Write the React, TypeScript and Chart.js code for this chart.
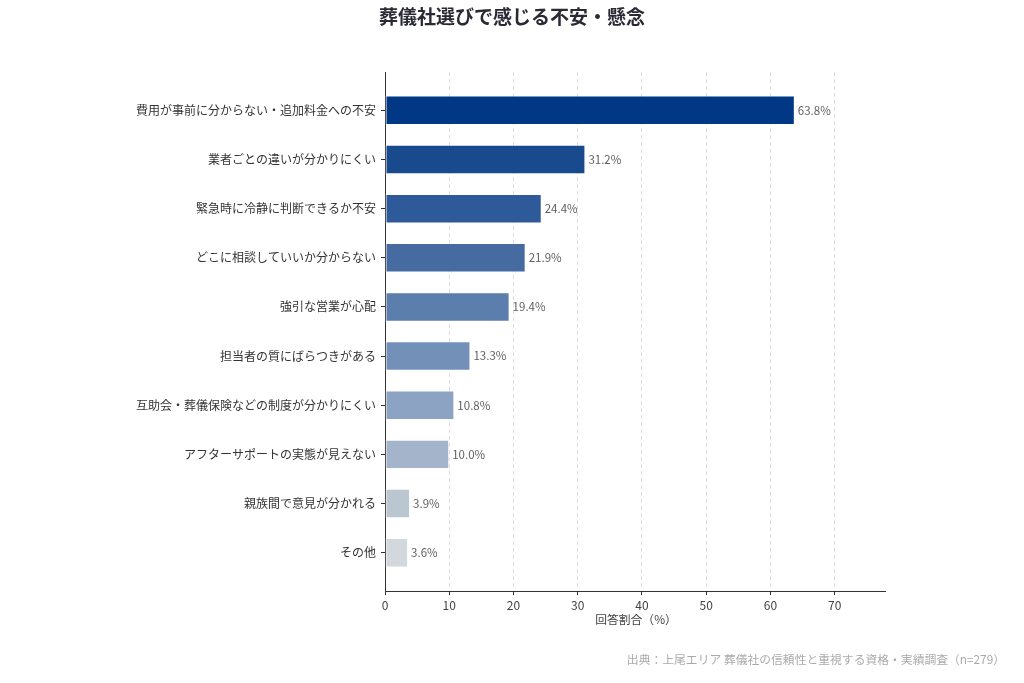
import React, { useEffect, useRef } from "react";
import { Chart, registerables } from "chart.js";

Chart.register(...registerables);

const chartTitle = "葬儀社選びで感じる不安・懸念";
const xAxisTitle = "回答割合（%）";
const footnote = "出典：上尾エリア 葬儀社の信頼性と重視する資格・実績調査（n=279）";

const categories = [
  "費用が事前に分からない・追加料金への不安",
  "業者ごとの違いが分かりにくい",
  "緊急時に冷静に判断できるか不安",
  "どこに相談していいか分からない",
  "強引な営業が心配",
  "担当者の質にばらつきがある",
  "互助会・葬儀保険などの制度が分かりにくい",
  "アフターサポートの実態が見えない",
  "親族間で意見が分かれる",
  "その他",
];

const values = [63.8, 31.2, 24.4, 21.9, 19.4, 13.3, 10.8, 10.0, 3.9, 3.6];

const barColors = [
  "#003886",
  "#1a4a8e",
  "#2e5a9a",
  "#466ba1",
  "#5b7ead",
  "#7390b8",
  "#8ca3c3",
  "#a3b4cb",
  "#bcc6d1",
  "#d2d8db",
];

const xTicks = [0, 10, 20, 30, 40, 50, 60, 70];

const FONT = '"Noto Sans CJK JP", "Noto Sans", sans-serif';

export default function App() {
  const canvasRef = useRef<HTMLCanvasElement | null>(null);

  useEffect(() => {
    if (!canvasRef.current) return;
    Chart.defaults.font.family = FONT;

    const overlay = {
      id: "overlay",
      afterDatasetsDraw(chart: any) {
        const ctx = chart.ctx;
        const meta = chart.getDatasetMeta(0);
        ctx.save();
        ctx.font = `11.5px ${FONT}`;
        ctx.fillStyle = "#5f5f5f";
        ctx.textAlign = "left";
        ctx.textBaseline = "middle";
        meta.data.forEach((bar: any, i: number) => {
          ctx.fillText(values[i].toFixed(1) + "%", bar.x + 3, bar.y);
        });
        ctx.restore();
      },
      afterDraw(chart: any) {
        const ctx = chart.ctx;
        const area = chart.chartArea;
        ctx.save();
        ctx.textBaseline = "middle";
        ctx.textAlign = "center";
        ctx.fillStyle = "#2a2a35";
        ctx.font = `bold 19px ${FONT}`;
        ctx.fillText(chartTitle, 512, 17);

        ctx.fillStyle = "#444444";
        ctx.font = `11.8px ${FONT}`;
        ctx.fillText(xAxisTitle, (area.left + area.right) / 2 + 1, area.bottom + 29);

        ctx.textAlign = "right";
        ctx.fillStyle = "#aaaaaa";
        ctx.font = `11.8px ${FONT}`;
        ctx.fillText(footnote, 1005, 660);
        ctx.restore();
      },
    };

    const chart = new Chart(canvasRef.current, {
      type: "bar",
      data: {
        datasets: [
          {
            data: values.map((v, i) => ({ x: v, y: i })),
            backgroundColor: barColors,
            borderColor: "rgba(255,255,255,0.55)",
            borderWidth: 1,
            borderSkipped: false,
            barPercentage: 0.6,
            categoryPercentage: 1.0,
          },
        ],
      },
      options: {
        indexAxis: "y",
        responsive: false,
        animation: false,
        devicePixelRatio: 1,
        layout: { padding: { left: 0, right: 139, top: 72, bottom: 0 } },
        plugins: {
          legend: { display: false },
          title: { display: false },
          tooltip: { enabled: false },
        },
        scales: {
          x: {
            type: "linear",
            position: "bottom",
            min: 0,
            max: 77.84,
            offset: false,
            afterFit(scale: any) {
              scale.height = 92;
            },
            afterBuildTicks(scale: any) {
              scale.ticks = xTicks.map((v) => ({ value: v }));
            },
            ticks: {
              includeBounds: false,
              color: "#444444",
              font: { size: 12, family: FONT },
              padding: 3,
              callback: (v: any) => String(v),
            },
            grid: {
              display: true,
              offset: false,
              drawOnChartArea: true,
              drawTicks: true,
              color: "#dddddd",
              lineWidth: 1,
              tickLength: 4,
              tickColor: "#333333",
            },
            border: { display: true, color: "#333333", width: 1, dash: [4, 3] },
          },
          y: {
            type: "linear",
            reverse: true,
            offset: false,
            min: -0.78,
            max: 9.78,
            afterFit(scale: any) {
              scale.width = 385;
            },
            afterBuildTicks(scale: any) {
              scale.ticks = categories.map((_, i) => ({ value: i }));
            },
            ticks: {
              autoSkip: false,
              color: "#333333",
              font: { size: 12, family: FONT },
              padding: 5,
              callback: (v: any) => categories[v as number] ?? "",
            },
            grid: {
              display: true,
              offset: false,
              drawOnChartArea: false,
              drawTicks: true,
              tickLength: 4,
              tickColor: "#333333",
            },
            border: { display: true, color: "#333333", width: 1 },
          },
        },
      },
      plugins: [overlay],
    } as any);

    return () => chart.destroy();
  }, []);

  return (
    <div style={{ position: "absolute", left: 0, top: 0, width: 1024, height: 683, background: "#ffffff" }}>
      <canvas ref={canvasRef} width={1024} height={683} style={{ display: "block" }} />
    </div>
  );
}
